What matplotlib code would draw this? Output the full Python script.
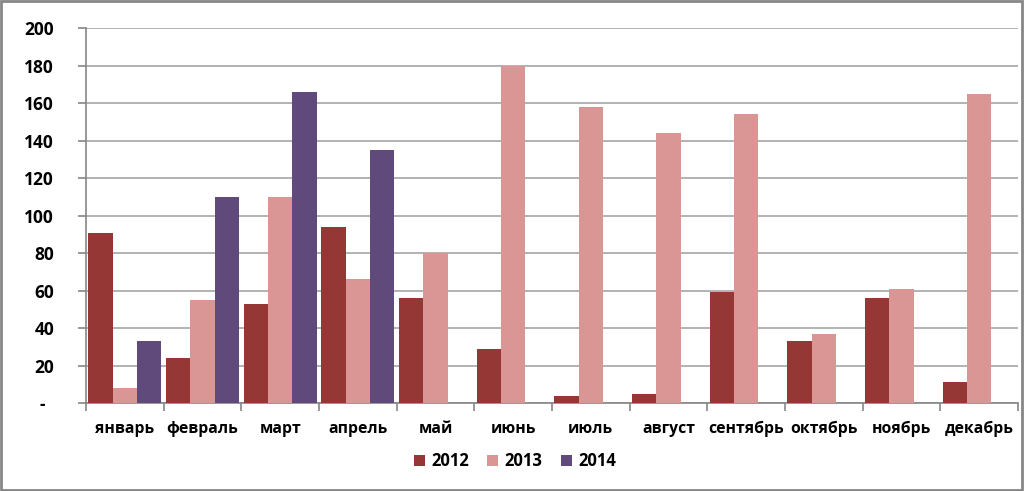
import numpy as np
import matplotlib
matplotlib.use("Agg")
import matplotlib.pyplot as plt
from matplotlib.ticker import FixedLocator, FuncFormatter

plt.rcParams['font.family'] = ['Open Sans', 'DejaVu Sans']

# monthly values
months = ["январь", "февраль", "март", "апрель", "май", "июнь",
          "июль", "август", "сентябрь", "октябрь", "ноябрь", "декабрь"]
y2012 = [91, 24, 53, 94, 56, 29, 4, 5, 59, 33, 56, 11]
y2013 = [8, 55, 110, 66, 80, 180, 158, 144, 154, 37, 61, 165]
y2014 = [33, 110, 166, 135]
years = ["2012", "2013", "2014"]
colors = ["#953735", "#D99694", "#604A7B"]

fig = plt.figure(figsize=(10.24, 4.91), dpi=100)
ax = fig.add_axes([86 / 1024, 1 - 403 / 491, (1018 - 86) / 1024, (403 - 28.3) / 491])

x = np.arange(len(months))
w = 0.313
series = [y2012, y2013, y2014]
for i, (vals, lab, c) in enumerate(zip(series, years, colors)):
    xs = x[:len(vals)] + (i - 1) * w
    ax.bar(xs, vals, width=w, color=c, label=lab, zorder=3)

ax.set_xlim(-0.5, len(months) - 0.5)
ax.set_ylim(0, 200)
ax.set_yticks(np.arange(0, 201, 20))
ax.yaxis.set_major_formatter(FuncFormatter(lambda v, p: "-  " if v == 0 else "%d" % v))
ax.grid(axis='y', color='#a6a6a6', linewidth=1.2, zorder=0)

# category labels centred, tick marks on category borders
ax.set_xticks(x)
ax.set_xticklabels(months)
ax.xaxis.set_minor_locator(FixedLocator(np.arange(-0.5, len(months), 1)))
ax.tick_params(axis='x', which='major', length=0, pad=13)
ax.tick_params(axis='x', which='minor', length=6, color='#868686', width=1.2)
ax.tick_params(axis='y', length=6, color='#868686', width=1.2, pad=17)
for lbl in ax.get_xticklabels():
    lbl.set_fontweight('bold')
    lbl.set_fontsize(11.3)
for lbl in ax.get_yticklabels():
    lbl.set_fontweight('bold')
    lbl.set_fontsize(12.5)

for s in ['top', 'right']:
    ax.spines[s].set_visible(False)
for s in ['left', 'bottom']:
    ax.spines[s].set_color('#868686')
    ax.spines[s].set_linewidth(1.2)

leg = fig.legend(loc='center', bbox_to_anchor=(515 / 1024, 1 - 461 / 491), ncol=3,
                 frameon=False, prop={'weight': 'bold', 'size': 12},
                 handlelength=0.65, handleheight=0.65, columnspacing=1.1, handletextpad=0.4)

# outer border
fig.patches.append(plt.Rectangle((0.001, 0.002), 0.997, 0.995, transform=fig.transFigure,
                                 fill=False, edgecolor='#868686', linewidth=2))

fig.savefig("out.png", dpi=100)
